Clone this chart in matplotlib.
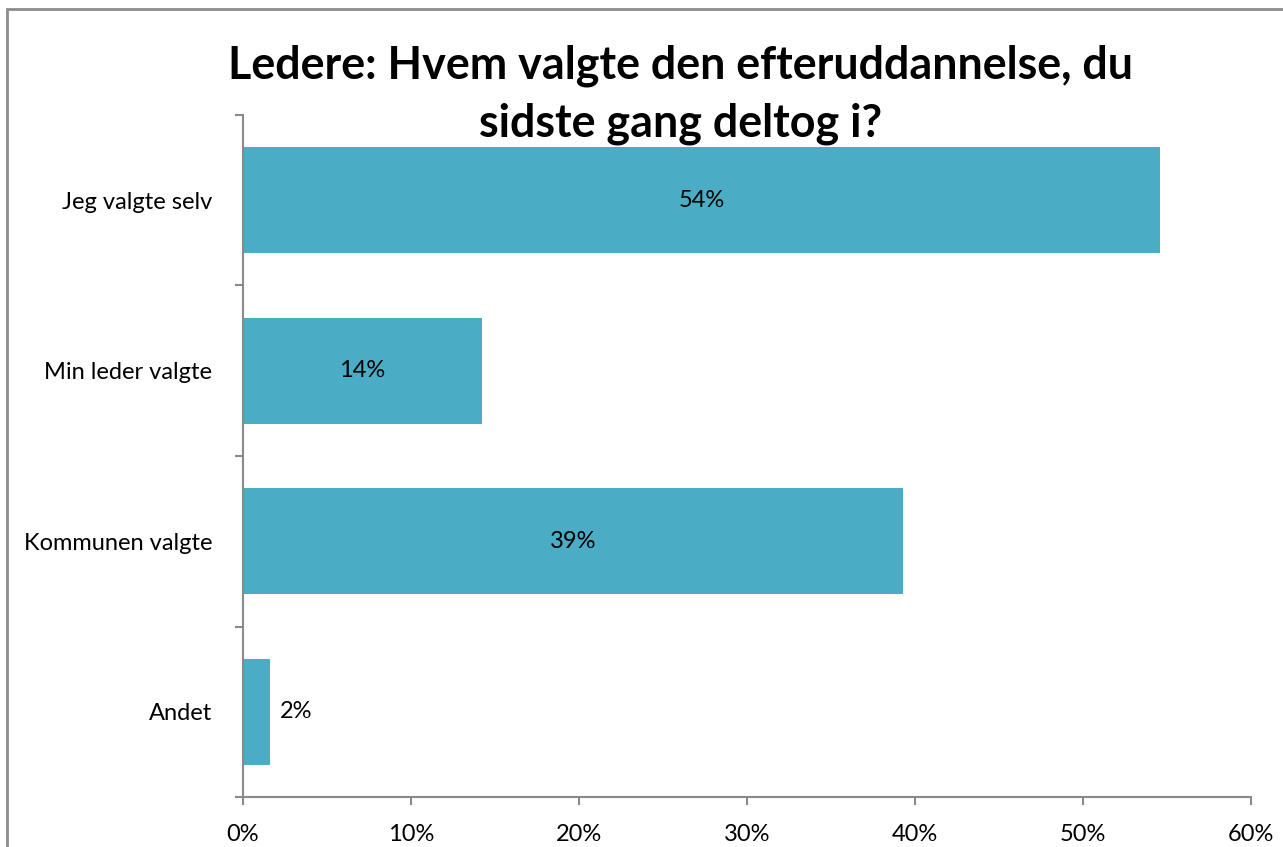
import matplotlib
matplotlib.use("Agg")
import matplotlib.pyplot as plt
from matplotlib.patches import Rectangle
from matplotlib.ticker import FuncFormatter, FixedLocator

categories = ["Jeg valgte selv", "Min leder valgte", "Kommunen valgte", "Andet"]
values = [54.6, 14.2, 39.3, 1.6]
value_labels = ["54%", "14%", "39%", "2%"]
title = "Ledere: Hvem valgte den efteruddannelse, du\nsidste gang deltog i?"

W, H = 1283, 847
fig = plt.figure(figsize=(W / 100, H / 100), dpi=100)
plt.rcParams['font.family'] = ['Lato', 'DejaVu Sans']

# outer chart border (only top/left visible in crop)
fig.patches.append(Rectangle((7 / W, -0.1), 1.2, (H - 9) / H + 0.1, transform=fig.transFigure,
                             fill=False, edgecolor="#8c8c8c", linewidth=2))

ax = fig.add_axes([243 / W, 50 / H, (1251 - 243) / W, (797 - 115) / H])
gray = "#8a8a8a"
bar_color = "#4BACC6"
fs = 17
ypos = list(range(len(categories)))
ax.barh(ypos, values, height=0.62, color=bar_color)
ax.set_ylim(3.5, -0.5)
ax.set_xlim(0, 60)

for i, (v, lab) in enumerate(zip(values, value_labels)):
    if v > 5:
        ax.text(v / 2, i, lab, ha="center", va="center", fontsize=fs, color="black")
    else:
        ax.text(v + 0.6, i, lab, ha="left", va="center", fontsize=fs, color="black")

ax.set_yticks(ypos)
ax.set_yticklabels(categories, fontsize=fs)
ax.yaxis.set_minor_locator(FixedLocator([-0.5, 0.5, 1.5, 2.5, 3.5]))
ax.tick_params(axis="y", which="major", length=0, pad=22)
ax.tick_params(axis="y", which="minor", length=5.5, width=1.5, color=gray, direction="out")
ax.set_xticks(range(0, 61, 10))
ax.xaxis.set_major_formatter(FuncFormatter(lambda x, p: f"{int(x)}%"))
ax.tick_params(axis="x", length=5.5, width=1.5, color=gray, labelsize=fs, pad=14)

for s in ["top", "right"]:
    ax.spines[s].set_visible(False)
for s in ["left", "bottom"]:
    ax.spines[s].set_color(gray)
    ax.spines[s].set_linewidth(1.5)

fig.text(0.5305, 1 - 95 / H, title, ha="center", va="center", fontsize=32.3, fontweight="bold",
         linespacing=1.46)

fig.savefig("out.png", dpi=100)
